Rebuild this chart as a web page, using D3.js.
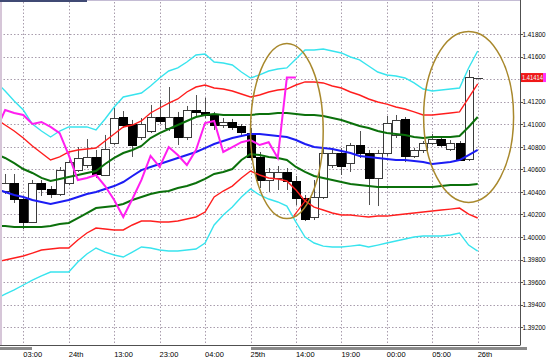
<!doctype html>
<html>
<head>
<meta charset="utf-8"/>
<title>Candles with bands</title>
<script src="https://d3js.org/d3.v7.min.js"></script>
<style>
  body { margin: 0; background: #fff; }
  text { font-family: "Liberation Sans", Arial, sans-serif; font-size: 7.5px; fill: #000; }
</style>
</head>
<body>
<div id="chart"></div>
<script>
// bar index 0 sits on the "03:00" grid line, 5 bars per grid step
var firstCandle = -2;
var open  = [1.40408,1.40479,1.40337,1.40133,1.40479,1.40426,1.40382,1.40479,1.40594,1.40639,1.40710,1.40550,1.40834,1.41064,1.41002,1.40887,1.40940,1.41064,1.40967,1.41064,1.40887,1.41126,1.41109,1.41082,1.40993,1.41020,1.40984,1.40922,1.40710,1.40506,1.40524,1.40577,1.40497,1.40346,1.40178,1.40355,1.40639,1.40745,1.40656,1.40816,1.40745,1.40524,1.40745,1.40905,1.41047,1.40719,1.40772,1.40834,1.40869,1.40781,1.40834,1.40692,1.41414];
var high  = [1.40559,1.40559,1.40355,1.40506,1.40506,1.40452,1.40621,1.40683,1.40798,1.40869,1.40772,1.40905,1.41144,1.41117,1.41038,1.41055,1.41171,1.41215,1.41330,1.41109,1.41162,1.41259,1.41233,1.41109,1.41055,1.41047,1.41002,1.40967,1.40754,1.40612,1.40630,1.40612,1.40541,1.40373,1.40506,1.40789,1.40789,1.40789,1.40834,1.40940,1.40772,1.40772,1.41073,1.41082,1.41064,1.40789,1.40851,1.40914,1.40887,1.40860,1.40851,1.41481,1.41414];
var low   = [1.40382,1.40302,1.40071,1.40125,1.40364,1.40346,1.40364,1.40461,1.40577,1.40612,1.40524,1.40541,1.40816,1.40967,1.40710,1.40860,1.40922,1.41002,1.40940,1.40816,1.40860,1.41073,1.41055,1.40949,1.40967,1.40949,1.40905,1.40683,1.40435,1.40399,1.40417,1.40417,1.40284,1.40142,1.40151,1.40337,1.40612,1.40550,1.40577,1.40701,1.40284,1.40275,1.40719,1.40878,1.40665,1.40701,1.40745,1.40816,1.40798,1.40763,1.40674,1.40674,1.41414];
var close = [1.40479,1.40337,1.40133,1.40479,1.40426,1.40382,1.40594,1.40665,1.40701,1.40710,1.40559,1.40781,1.41055,1.40993,1.40816,1.41002,1.41064,1.41029,1.41064,1.40887,1.41126,1.41109,1.41082,1.40993,1.41020,1.40976,1.40931,1.40710,1.40506,1.40577,1.40577,1.40497,1.40346,1.40160,1.40355,1.40745,1.40745,1.40630,1.40816,1.40745,1.40524,1.40745,1.41011,1.41038,1.40719,1.40772,1.40834,1.40869,1.40816,1.40834,1.40683,1.41420,1.41414];

// band lines start one bar earlier
var firstLine = -3;
var upper3 = [1.41375,1.41295,1.41206,1.41126,1.41002,1.40940,1.40887,1.40940,1.40976,1.40976,1.40976,1.40949,1.41047,1.41153,1.41242,1.41259,1.41277,1.41339,1.41410,1.41472,1.41499,1.41552,1.41614,1.41623,1.41552,1.41543,1.41525,1.41463,1.41410,1.41437,1.41472,1.41490,1.41499,1.41578,1.41658,1.41658,1.41667,1.41649,1.41632,1.41596,1.41570,1.41516,1.41463,1.41437,1.41428,1.41410,1.41366,1.41312,1.41295,1.41304,1.41312,1.41321,1.41499,1.41649];
var upper2 = [1.41047,1.40993,1.40940,1.40878,1.40807,1.40745,1.40683,1.40710,1.40754,1.40772,1.40781,1.40789,1.40851,1.40914,1.40976,1.40993,1.41029,1.41100,1.41144,1.41188,1.41224,1.41286,1.41330,1.41348,1.41321,1.41312,1.41295,1.41268,1.41242,1.41259,1.41286,1.41304,1.41312,1.41348,1.41375,1.41375,1.41366,1.41339,1.41321,1.41286,1.41259,1.41224,1.41197,1.41179,1.41153,1.41135,1.41109,1.41082,1.41082,1.41091,1.41100,1.41109,1.41233,1.41357];
var upper1 = [1.40736,1.40701,1.40656,1.40603,1.40568,1.40524,1.40497,1.40515,1.40532,1.40550,1.40568,1.40585,1.40648,1.40701,1.40745,1.40772,1.40807,1.40878,1.40922,1.40958,1.40993,1.41029,1.41064,1.41082,1.41091,1.41082,1.41082,1.41082,1.41082,1.41091,1.41091,1.41100,1.41100,1.41091,1.41082,1.41082,1.41073,1.41055,1.41038,1.41011,1.40984,1.40967,1.40940,1.40922,1.40914,1.40905,1.40887,1.40878,1.40887,1.40887,1.40887,1.40896,1.40976,1.41064];
var middle = [1.40426,1.40399,1.40373,1.40355,1.40328,1.40311,1.40293,1.40311,1.40328,1.40355,1.40382,1.40399,1.40426,1.40452,1.40488,1.40541,1.40594,1.40621,1.40648,1.40674,1.40701,1.40727,1.40754,1.40789,1.40825,1.40851,1.40878,1.40896,1.40914,1.40914,1.40905,1.40896,1.40887,1.40860,1.40825,1.40798,1.40789,1.40781,1.40763,1.40745,1.40719,1.40710,1.40701,1.40692,1.40683,1.40683,1.40674,1.40665,1.40648,1.40656,1.40665,1.40683,1.40727,1.40772];
var lower1 = [1.40098,1.40098,1.40089,1.40089,1.40089,1.40089,1.40098,1.40116,1.40125,1.40168,1.40213,1.40257,1.40266,1.40275,1.40293,1.40328,1.40355,1.40382,1.40399,1.40408,1.40435,1.40452,1.40479,1.40515,1.40559,1.40577,1.40603,1.40683,1.40736,1.40727,1.40710,1.40701,1.40683,1.40621,1.40577,1.40541,1.40524,1.40506,1.40488,1.40470,1.40461,1.40452,1.40443,1.40443,1.40443,1.40443,1.40443,1.40443,1.40443,1.40452,1.40461,1.40461,1.40461,1.40470];
var lower2 = [1.39779,1.39797,1.39814,1.39832,1.39858,1.39885,1.39894,1.39903,1.39903,1.39974,1.40036,1.40080,1.40071,1.40063,1.40063,1.40107,1.40142,1.40142,1.40133,1.40133,1.40142,1.40160,1.40178,1.40222,1.40355,1.40408,1.40452,1.40524,1.40585,1.40550,1.40524,1.40515,1.40497,1.40417,1.40320,1.40266,1.40240,1.40213,1.40195,1.40195,1.40186,1.40178,1.40186,1.40186,1.40195,1.40204,1.40213,1.40222,1.40231,1.40240,1.40248,1.40257,1.40204,1.40169];
var lower3 = [1.39451,1.39495,1.39531,1.39575,1.39619,1.39655,1.39690,1.39690,1.39690,1.39779,1.39850,1.39903,1.39867,1.39841,1.39823,1.39867,1.39912,1.39903,1.39885,1.39876,1.39876,1.39885,1.39894,1.39947,1.40107,1.40195,1.40266,1.40355,1.40426,1.40373,1.40337,1.40311,1.40275,1.40133,1.40000,1.39947,1.39920,1.39912,1.39912,1.39920,1.39929,1.39912,1.39929,1.39947,1.39965,1.39983,1.40000,1.40009,1.40009,1.40009,1.40018,1.40036,1.39929,1.39876];
// lagging close line, bars -3 .. 30
var lagging = [1.40949,1.41126,1.41100,1.41082,1.41002,1.41020,1.40976,1.40922,1.40727,1.40506,1.40524,1.40550,1.40452,1.40328,1.40178,1.40337,1.40506,1.40719,1.40621,1.40798,1.40727,1.40639,1.40772,1.41011,1.41029,1.40754,1.40798,1.40841,1.40860,1.40816,1.40841,1.40701,1.41414,1.41414];

var timeLabels = ["03:00","24th","13:00","23:00","04:00","25th","14:00","19:00","00:00","05:00","26th"];
var timeBars   = [0,5,10,15,20,25,30,35,40,45,50];
var priceTicks = [1.418,1.416,1.414,1.412,1.410,1.408,1.406,1.404,1.402,1.400,1.398,1.396,1.394,1.392];
var lastPrice = 1.41414;

// hand drawn marks: centre bar, centre price, half width in bars, half height in price
var ellipses = [
  {bar: 29.0, price: 1.40940, rb: 4.0, rp: 0.00776},
  {bar: 49.0, price: 1.41065, rb: 4.95, rp: 0.00758}
];
var cross = {bar: 30.5, price: 1.40266, rb: 0.75, rp: 0.0008};

var W = 550, H = 360;
var plotRight = 520, plotBottom = 345;

var svg = d3.select("#chart").append("svg")
  .attr("width", W).attr("height", H);

svg.append("rect").attr("width", W).attr("height", H).attr("fill", "#fff");

var x = d3.scaleLinear().domain([0, 50]).range([23.3, 477.7]);
var y = d3.scaleLinear().domain([1.392, 1.418]).range([327.3, 34]);

svg.append("clipPath").attr("id", "plot")
  .append("rect").attr("x", 0).attr("y", 2).attr("width", plotRight).attr("height", plotBottom - 2);

var px = function(v) { return Math.round(v) + 0.5; };

// grid
var grid = svg.append("g").attr("clip-path", "url(#plot)");
grid.selectAll("line.h").data(priceTicks).enter().append("line")
  .attr("x1", 0).attr("x2", plotRight)
  .attr("y1", function(d) { return px(y(d)); }).attr("y2", function(d) { return px(y(d)); })
  .attr("stroke", "#a89cac").attr("stroke-dasharray", "1.5,2");
grid.selectAll("line.v").data(timeBars).enter().append("line")
  .attr("y1", 2).attr("y2", plotBottom)
  .attr("x1", function(d) { return px(x(d)); }).attr("x2", function(d) { return px(x(d)); })
  .attr("stroke", "#a89cac").attr("stroke-dasharray", "1.5,2");

// candles
var candles = open.map(function(o, k) {
  return {i: firstCandle + k, o: o, h: high[k], l: low[k], c: close[k]};
});
var cg = svg.append("g").attr("clip-path", "url(#plot)");
cg.selectAll("line.wick").data(candles).enter().append("line")
  .attr("x1", function(d) { return px(x(d.i)); }).attr("x2", function(d) { return px(x(d.i)); })
  .attr("y1", function(d) { return y(d.h); }).attr("y2", function(d) { return y(d.l); })
  .attr("stroke", "#505050");
cg.selectAll("rect.body").data(candles).enter().append("rect")
  .attr("x", function(d) { return Math.round(x(d.i)) - 3.5; })
  .attr("width", 8)
  .attr("y", function(d) { return Math.round(y(Math.max(d.o, d.c))) + 0.5; })
  .attr("height", function(d) { return Math.max(0.01, Math.round(Math.abs(y(d.o) - y(d.c)))); })
  .attr("fill", function(d) { return d.c < d.o ? "#000" : "#fff"; })
  .attr("stroke", function(d) { return d.c < d.o ? "#000" : "#3a3a3a"; });

// band lines
function series(arr, start) {
  return arr.map(function(v, k) { return {i: start + k, v: v}; });
}
var line = d3.line().x(function(d) { return x(d.i); }).y(function(d) { return y(d.v); });
var bands = [
  {data: upper3, color: "#38e4ee", w: 1.4},
  {data: lower3, color: "#38e4ee", w: 1.4},
  {data: upper2, color: "#ff1e1e", w: 1.4},
  {data: lower2, color: "#ff1e1e", w: 1.4},
  {data: upper1, color: "#0b700b", w: 2},
  {data: lower1, color: "#0b700b", w: 2},
  {data: middle, color: "#1c1cf4", w: 2}
];
var lg = svg.append("g").attr("clip-path", "url(#plot)");
bands.forEach(function(b) {
  lg.append("path").datum(series(b.data, firstLine))
    .attr("d", line).attr("fill", "none")
    .attr("stroke", b.color).attr("stroke-width", b.w);
});
lg.append("path").datum(series(lagging, firstLine))
  .attr("d", line).attr("fill", "none")
  .attr("stroke", "#ff1ef0").attr("stroke-width", 2);

// marks
lg.selectAll("ellipse").data(ellipses).enter().append("ellipse")
  .attr("cx", function(d) { return x(d.bar); })
  .attr("cy", function(d) { return y(d.price); })
  .attr("rx", function(d) { return x(d.bar + d.rb) - x(d.bar); })
  .attr("ry", function(d) { return y(d.price - d.rp) - y(d.price); })
  .attr("fill", "none").attr("stroke", "#a8882c").attr("stroke-width", 1.5);
lg.append("line")
  .attr("x1", x(cross.bar - cross.rb)).attr("y1", y(cross.price - cross.rp))
  .attr("x2", x(cross.bar + cross.rb)).attr("y2", y(cross.price + cross.rp))
  .attr("stroke", "#ff1e1e").attr("stroke-width", 1.2);

// frame
svg.append("line").attr("x1", px(plotRight)).attr("x2", px(plotRight)).attr("y1", 0).attr("y2", plotBottom)
  .attr("stroke", "#505050");
svg.append("line").attr("x1", 0).attr("x2", px(plotRight)).attr("y1", px(plotBottom)).attr("y2", px(plotBottom))
  .attr("stroke", "#505050");
svg.append("rect").attr("x", 0).attr("y", 0).attr("width", 2).attr("height", plotBottom).attr("fill", "#d6c6d8");
svg.append("rect").attr("x", 0).attr("y", 0).attr("width", 87).attr("height", 2).attr("fill", "#404a74");
svg.append("rect").attr("x", 87).attr("y", 0).attr("width", plotRight - 87).attr("height", 1).attr("fill", "#c4bcd4");
svg.append("rect").attr("x", 0).attr("y", 347).attr("width", 32).attr("height", 3).attr("fill", "#8a8a8a");
svg.append("rect").attr("x", 251).attr("y", 347).attr("width", 276).attr("height", 3).attr("fill", "#8a8a8a");

// price axis: the tag hides the tick label it sits on
var fmt = d3.format(".5f");
var ya = svg.append("g");
ya.selectAll("line").data(priceTicks).enter().append("line")
  .attr("x1", plotRight).attr("x2", plotRight + 3)
  .attr("y1", function(d) { return px(y(d)); }).attr("y2", function(d) { return px(y(d)); })
  .attr("stroke", "#505050");
ya.selectAll("text").data(priceTicks.filter(function(d) { return Math.abs(y(d) - y(lastPrice)) > 8; }))
  .enter().append("text")
  .attr("x", plotRight + 2.5).attr("y", function(d) { return y(d) + 2.7; })
  .attr("textLength", 23).attr("lengthAdjust", "spacingAndGlyphs")
  .text(fmt);

// last price tag
var tag = svg.append("g");
tag.append("rect").attr("x", plotRight + 1).attr("y", y(lastPrice) - 4.5).attr("width", 22).attr("height", 9).attr("fill", "#f01818");
tag.append("rect").attr("x", plotRight + 23).attr("y", y(lastPrice) - 4.5).attr("width", 3).attr("height", 9).attr("fill", "#ff30ff");
tag.append("text").attr("x", plotRight + 2).attr("y", y(lastPrice) + 2.7)
  .attr("textLength", 21).attr("lengthAdjust", "spacingAndGlyphs")
  .style("fill", "#e8ffff").text(fmt(lastPrice));

// time axis
svg.append("g").selectAll("text").data(timeBars).enter().append("text")
  .attr("x", function(d) { return x(d); })
  .attr("y", 357)
  .text(function(d, k) { return timeLabels[k]; });
</script>
</body>
</html>
